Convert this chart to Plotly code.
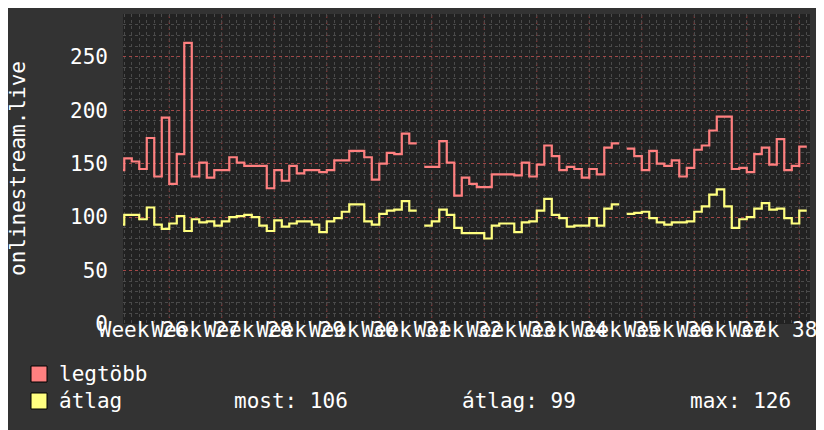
import plotly.graph_objects as go

# daily values, first entry is the day before the visible window
first_day = -1
legtobb = [144,
           155, 152, 145, 174, 138, 193, 131, 159, 263, 138,
           151, 137, 144, 144, 156, 151, 148, 148, 148, 127,
           144, 134, 148, 141, 144, 144, 142, 144, 153, 153,
           162, 162, 156, 135, 150, 160, 159, 178, 169, None,
           147, 147, 171, 151, 120, 137, 131, 128, 128, 140,
           140, 140, 139, 151, 138, 149, 167, 157, 144, 147,
           145, 137, 145, 140, 165, 169, None, 164, 157, 144,
           162, 150, 148, 153, 138, 146, 163, 167, 181, 194,
           194, 145, 146, 142, 159, 165, 149, 173, 144, 148, 166]
atlag = [93,
         102, 102, 98, 109, 93, 89, 94, 101, 87, 98,
         95, 96, 92, 96, 100, 101, 102, 100, 92, 87,
         97, 91, 94, 96, 96, 93, 86, 96, 99, 105,
         112, 112, 96, 93, 103, 106, 107, 115, 106, None,
         92, 96, 107, 102, 90, 85, 85, 85, 80, 92,
         94, 94, 86, 95, 96, 106, 117, 102, 99, 91,
         92, 92, 99, 92, 108, 112, None, 103, 104, 105,
         99, 95, 93, 95, 95, 96, 105, 110, 121, 126,
         110, 90, 98, 100, 108, 113, 107, 108, 99, 94, 106]

week_labels = ["Week 26", "Week 27", "Week 28", "Week 29", "Week 30", "Week 31", "Week 32",
               "Week 33", "Week 34", "Week 35", "Week 36", "Week 37", "Week 38"]
first_week_start = 6      # day where the 2nd labelled week begins
y_ticks = [0, 50, 100, 150, 200, 250]
series_names = ["legtöbb", "átlag"]
stats = ["most: 106", "átlag: 99", "max: 126"]

FONT = "DejaVu Sans Mono"
RED = "#ff8080"
YEL = "#ffff80"
OFF = 8                   # page body margin
W, H = 824 - OFF, 430 - OFF
L, R, T, B = 123 - OFF, 14, 14 - OFF, 114 - OFF
x_lo, x_hi = -0.17, 91.43
y_lo, y_hi = 0, 290


def px(X):
    return (X - OFF - L) / (W - L - R)


def py(Y):
    return (H - B - (Y - OFF)) / (H - B - T)


def steps(vals):
    xs, ys = [], []
    for i, v in enumerate(vals):
        d = first_day + i
        if v is None:
            xs.append(None)
            ys.append(None)
            continue
        xs += [d, d + 1]
        ys += [v, v]
    return xs, ys


fig = go.Figure()
for vals, col in [(legtobb, RED), (atlag, YEL)]:
    xs, ys = steps(vals)
    fig.add_trace(go.Scatter(x=xs, y=ys, mode="lines", line=dict(color=col, width=2.2),
                             connectgaps=False, showlegend=False, hoverinfo="skip"))

# green arrows at the axis ends
fig.add_trace(go.Scatter(x=[x_lo + 0.15], y=[y_hi + 4], mode="markers", cliponaxis=False,
                         marker=dict(symbol="triangle-up", size=7, color="#00d000"),
                         showlegend=False, hoverinfo="skip"))
fig.add_trace(go.Scatter(x=[x_hi + 0.45], y=[y_lo + 2], mode="markers", cliponaxis=False,
                         marker=dict(symbol="triangle-right", size=7, color="#00d000"),
                         showlegend=False, hoverinfo="skip"))

shapes = []
for k in range(len(week_labels)):
    xv = first_week_start + 7 * k
    shapes.append(dict(type="line", xref="x", yref="paper", x0=xv, x1=xv, y0=0, y1=1,
                       layer="between", line=dict(color="rgba(200,70,70,0.7)", width=1, dash="dot")))

# legend boxes
for i, col in enumerate([RED, YEL]):
    y0 = 366 + 27 * i
    shapes.append(dict(type="rect", xref="paper", yref="paper", x0=px(31), x1=px(47),
                       y0=py(y0 + 16), y1=py(y0), fillcolor=col, line=dict(color="black", width=1)))

annotations = []
for i, name in enumerate(series_names):
    annotations.append(dict(text=name, xref="paper", yref="paper", x=px(57), y=py(374 + 27 * i),
                            xanchor="left", yanchor="middle", showarrow=False,
                            font=dict(family=FONT, size=21, color="white")))
for s, X in zip(stats, [232, 460, 688]):
    annotations.append(dict(text=s, xref="paper", yref="paper", x=px(X), y=py(401),
                            xanchor="left", yanchor="middle", showarrow=False,
                            font=dict(family=FONT, size=21, color="white")))
annotations.append(dict(text="onlinestream.live", xref="paper", yref="paper", x=px(18), y=0.5,
                        textangle=-90, xanchor="center", yanchor="middle", showarrow=False,
                        borderpad=0, font=dict(family=FONT, size=21, color="white")))

fig.update_layout(
    width=W, height=H, autosize=False,
    margin=dict(l=L, r=R, t=T, b=B),
    paper_bgcolor="#333333", plot_bgcolor="#222222",
    font=dict(family=FONT, size=21, color="white"),
    shapes=shapes, annotations=annotations,
    xaxis=dict(range=[x_lo, x_hi], tickmode="array",
               tickvals=[first_week_start - 3.5 + 7 * k for k in range(len(week_labels))],
               ticktext=week_labels, tickangle=0, showgrid=False, zeroline=False,
               showline=False, ticks="", ticklabelstandoff=-9,
               minor=dict(tick0=0, dtick=1, showgrid=True, gridcolor="#4a4a4a",
                          griddash="dot", gridwidth=1)),
    yaxis=dict(range=[y_lo, y_hi], tickmode="array", tickvals=y_ticks,
               ticktext=[str(v) for v in y_ticks], showgrid=True,
               gridcolor="rgba(200,70,70,0.7)", griddash="dot", gridwidth=1,
               zeroline=False, showline=False, ticks="", ticklabelstandoff=14,
               minor=dict(dtick=10, tick0=0, showgrid=True, gridcolor="#4a4a4a",
                          griddash="dot", gridwidth=1)),
)

fig.write_html("out.html")
